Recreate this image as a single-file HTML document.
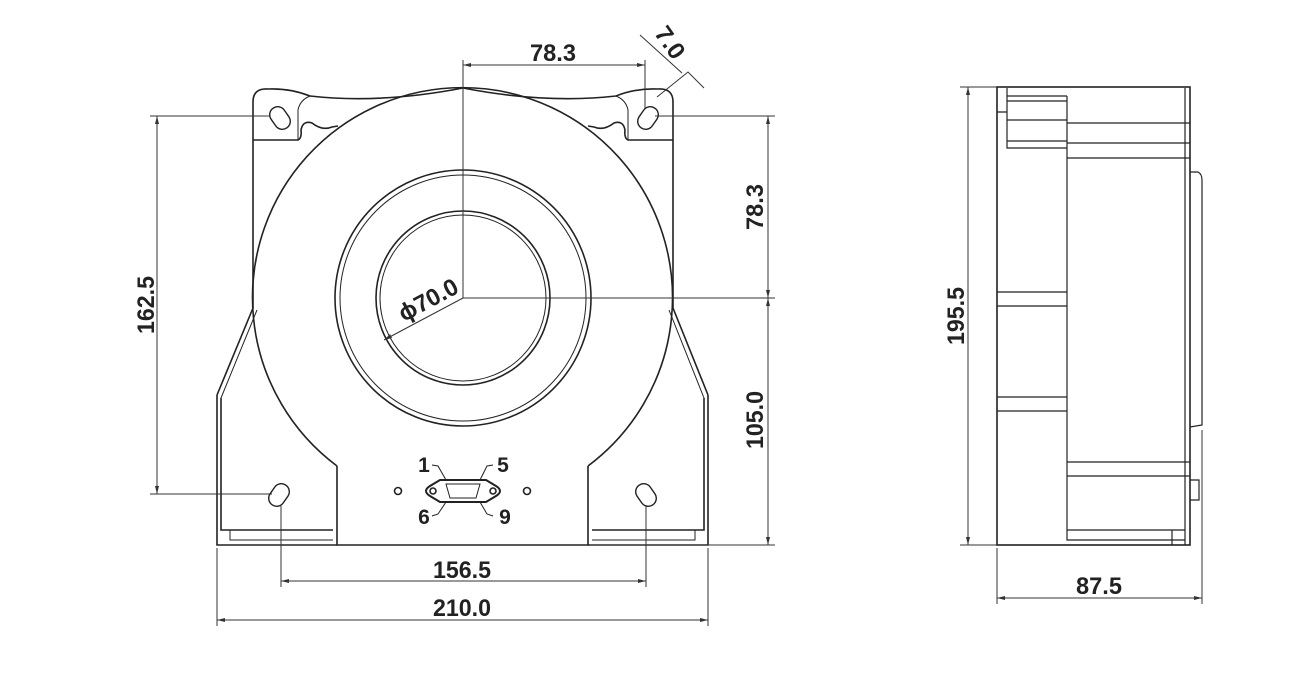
<!DOCTYPE html>
<html><head><meta charset="utf-8"><style>
html,body{margin:0;padding:0;background:#fff;}
svg{display:block}
text{font-family:"Liberation Sans",sans-serif;font-weight:bold;font-size:24px;fill:#222;}
text.s{font-size:21px}
</style></head><body>
<svg width="1303" height="673" viewBox="0 0 1303 673" xmlns="http://www.w3.org/2000/svg">
<g fill="none" stroke="#222" stroke-width="1.6">
<path d="M337,466 L337,545 L588,545 L588,466"/>
<path d="M217,395 L217,545 L337,545"/><path d="M708,395 L708,545 L588,545"/>
<path d="M221,398 L221,530 L333,530"/><path d="M704,398 L704,530 L592,530"/>
<path d="M230,530 L230,540 L333,540" stroke-width="1"/><path d="M695,530 L695,540 L592,540" stroke-width="1"/>
<path d="M253,140 L253,308 L217,395"/><path d="M257,310 L221,398" stroke-width="1"/>
<path d="M673,140 L673,308 L708,395"/><path d="M669,310 L704,398" stroke-width="1"/>
<path d="M337,466 A210,210 0 1 1 588,466"/>
<path d="M253,140 L253,102 Q253,88 268,89 Q290,88 310,96 Q380,104 463,88 Q546,104 616,96 Q636,88 658,89 Q673,88 673,102 L673,140"/>
<path d="M253,140 L298,140 Q302,138 301,130 Q303,120 312,123 Q322,131 332,127 L338,126"/>
<path d="M673,140 L628,140 Q624,138 625,130 Q623,120 614,123 Q604,131 594,127 L588,126"/>
<path d="M298,140 L298,110 Q300,100 310,96" stroke-width="1"/>
<path d="M628,140 L628,110 Q626,100 616,96" stroke-width="1"/>
<circle cx="463" cy="298" r="128"/><circle cx="463" cy="298" r="123" stroke-width="1"/>
<circle cx="463" cy="298" r="87"/><circle cx="463" cy="298" r="83" stroke-width="1"/>
<g stroke-width="1.4">
<rect x="272" y="106" width="16" height="24" rx="8" transform="rotate(-35 280 118)"/>
<rect x="640" y="106" width="16" height="24" rx="8" transform="rotate(35 648 118)"/>
<rect x="271" y="483" width="16" height="24" rx="8" transform="rotate(35 279 495)"/>
<rect x="638" y="483" width="16" height="24" rx="8" transform="rotate(-35 646 495)"/>
</g>
<circle cx="398" cy="491" r="3.5"/><circle cx="527" cy="491" r="3.5"/>
<path d="M440,480 L486,480 L496,486 Q504,491 496,496 L486,502 L440,502 L430,496 Q422,491 430,486 Z" stroke-width="2"/>
<path d="M446,484 L480,484 L476,498 L450,498 Z" stroke-width="1"/>
<circle cx="433" cy="491" r="3"/><circle cx="493" cy="491" r="3"/>
<path d="M432,465 L438,466 L446,480 M493,465 L487,466 L480,480 M432,516 L438,514 L446,502 M493,516 L487,514 L480,502" stroke-width="1"/>
<rect x="997" y="87" width="193" height="458"/>
<path d="M1007,88 L1007,148 L1067,148 M1067,96 L1067,540 L1185,540 M1007,96 L1067,96 M1007,101 L1067,101 M997,112 L1007,112 M1007,120 L1067,120 M1007,141 L1067,141 M1067,123 L1190,123 M1067,143 L1190,143 M1067,158 L1190,158 M997,292 L1067,292 M997,306 L1067,306 M997,397 L1067,397 M997,411 L1067,411 M1067,462 L1190,462 M1067,476 L1190,476 M1067,530 L1185,530 M1172,530 L1172,545 M1185,88 L1185,545" stroke-width="1.2"/>
<path d="M1190,172 L1198,172 Q1202,174 1202,180 L1202,425 L1190,427 M1190,480 L1199,480 L1199,500 L1190,500" stroke-width="1.2"/>
</g>
<g fill="none" stroke="#333" stroke-width="1">
<path d="M463,60 L463,298 L775,298"/>
<path d="M463,65 L645,65 M645,60 L645,108"/>
<path d="M640,35 L682,73 M657,97 L688,72 L704,88"/>
<path d="M150,116 L270,116 M150,494 L272,494 M157,116 L157,494"/>
<path d="M655,116 L775,116 M590,545 L775,545 M768,116 L768,545"/>
<path d="M281,505 L281,587 M646,505 L646,587 M281,581 L646,581"/>
<path d="M217,548 L217,626 M708,548 L708,626 M217,620 L708,620"/>
<path d="M463,298 L384,340"/>
<path d="M960,87 L997,87 M960,545 L997,545 M968,87 L968,545"/>
<path d="M997,548 L997,604 M1202,430 L1202,604 M997,598 L1202,598"/>
</g>
<g fill="#333">
<path d="M463,65 l8,-2 v4z M645,65 l-8,-2 v4z M157,116 l-2,8 h4z M157,494 l-2,-8 h4z M768,116 l-2,8 h4z M768,298 l-2,-8 h4z M768,298 l-2,8 h4z M768,545 l-2,-8 h4z M281,581 l8,-2 v4z M646,581 l-8,-2 v4z M217,620 l8,-2 v4z M708,620 l-8,-2 v4z M968,87 l-2,8 h4z M968,545 l-2,-8 h4z M997,598 l8,-2 v4z M1202,598 l-8,-2 v4z M384,340 l6,-6 l2,4z"/>
</g>
<text x="530" y="61" textLength="46" lengthAdjust="spacingAndGlyphs">78.3</text>
<text x="-18" y="0" textLength="34" lengthAdjust="spacingAndGlyphs" transform="translate(664,48) rotate(55)">7.0</text>
<text x="-23" y="0" textLength="46" lengthAdjust="spacingAndGlyphs" transform="translate(763,207) rotate(-90)">78.3</text>
<text x="-29" y="0" textLength="58" lengthAdjust="spacingAndGlyphs" transform="translate(763,420) rotate(-90)">105.0</text>
<text x="-29" y="0" textLength="58" lengthAdjust="spacingAndGlyphs" transform="translate(154,305) rotate(-90)">162.5</text>
<text x="-29" y="0" textLength="58" lengthAdjust="spacingAndGlyphs" transform="translate(964,316) rotate(-90)">195.5</text>
<text x="-32" y="0" textLength="64" lengthAdjust="spacingAndGlyphs" transform="translate(432,307) rotate(-28)">ϕ70.0</text>
<text x="433" y="578" textLength="58" lengthAdjust="spacingAndGlyphs">156.5</text>
<text x="433" y="616" textLength="58" lengthAdjust="spacingAndGlyphs">210.0</text>
<text x="1076" y="594" textLength="46" lengthAdjust="spacingAndGlyphs">87.5</text>
<text class="s" x="424" y="472" text-anchor="middle">1</text>
<text class="s" x="503" y="472" text-anchor="middle">5</text>
<text class="s" x="424" y="524" text-anchor="middle">6</text>
<text class="s" x="505" y="524" text-anchor="middle">9</text>
</svg>
</body></html>
